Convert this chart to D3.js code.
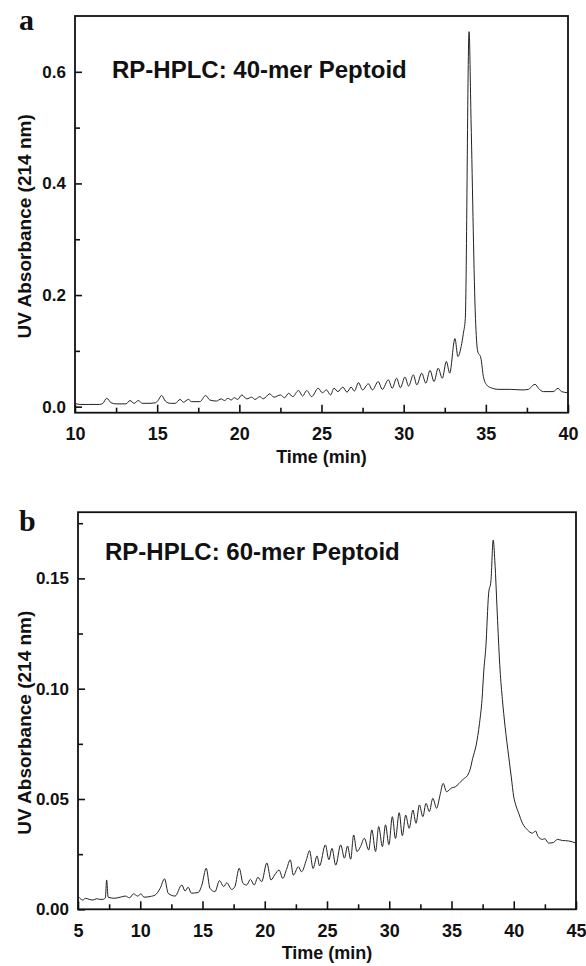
<!DOCTYPE html>
<html>
<head>
<meta charset="utf-8">
<script src="https://cdn.jsdelivr.net/npm/d3@7"></script>
<style>
  body { margin: 0; background: #fff; }
  svg text { font-family: "Liberation Sans", Arial, Helvetica, sans-serif; font-weight: bold; fill: #111; }
  .letter { font-family: "Liberation Serif", "Times New Roman", serif !important; }
</style>
</head>
<body>
<svg id="chart" width="586" height="966"></svg>
<script>
// panel a: 40-mer peptoid trace
const timeA = [10.0, 10.3, 10.8, 11.5, 11.7, 11.93, 12.2, 12.5, 13.1, 13.35, 13.6, 13.85, 14.1, 14.5, 14.9, 15.05, 15.27, 15.5, 15.8, 16.1,
  16.4, 16.6, 16.9, 17.1, 17.6, 17.95, 18.2, 18.6, 18.9, 19.1, 19.3, 19.5, 19.7, 19.9, 20.15, 20.45, 20.75, 20.95, 21.25, 21.45,
  21.85, 22.1, 22.5, 22.75, 23.0, 23.25, 23.6, 23.85, 24.1, 24.4, 24.8, 25.05, 25.3, 25.55, 25.76, 26.0, 26.3, 26.55, 26.8, 27.0,
  27.25, 27.5, 27.85, 28.1, 28.45, 28.7, 29.07, 29.3, 29.57, 29.8, 30.08, 30.3, 30.59, 30.8, 31.1, 31.35, 31.6, 31.85, 32.1, 32.35,
  32.6, 32.8, 33.12, 33.3, 33.5, 33.63, 33.75, 33.98, 34.1, 34.37, 34.5, 34.7, 34.85, 35.05, 35.3, 35.8, 36.5, 37.2, 37.6, 37.85,
  38.0, 38.2, 38.5, 39.1, 39.4, 39.6, 40.0];
const absA = [0.006, 0.004, 0.004, 0.004, 0.006, 0.015, 0.007, 0.005, 0.005, 0.011, 0.006, 0.011, 0.006, 0.006, 0.007, 0.011, 0.020, 0.010, 0.006, 0.006,
  0.013, 0.008, 0.013, 0.009, 0.009, 0.020, 0.012, 0.010, 0.014, 0.011, 0.015, 0.012, 0.016, 0.013, 0.021, 0.014, 0.017, 0.013, 0.018, 0.014,
  0.023, 0.017, 0.021, 0.016, 0.024, 0.018, 0.029, 0.019, 0.029, 0.018, 0.033, 0.025, 0.030, 0.021, 0.033, 0.027, 0.035, 0.026, 0.035, 0.028,
  0.043, 0.030, 0.041, 0.030, 0.045, 0.031, 0.048, 0.033, 0.051, 0.034, 0.053, 0.037, 0.057, 0.039, 0.060, 0.042, 0.065, 0.045, 0.069, 0.051,
  0.081, 0.060, 0.122, 0.090, 0.108, 0.131, 0.158, 0.672, 0.514, 0.158, 0.100, 0.087, 0.054, 0.039, 0.034, 0.031, 0.031, 0.030, 0.031, 0.038,
  0.040, 0.033, 0.027, 0.027, 0.033, 0.027, 0.025];

// panel b: 60-mer peptoid trace
const timeB = [5.0, 5.15, 5.4, 5.6, 5.9, 6.2, 6.5, 6.75, 7.0, 7.2, 7.3, 7.42, 7.9, 8.4, 8.8, 9.15, 9.45, 9.8, 10.05, 10.3,
  10.8, 11.2, 11.6, 11.95, 12.25, 12.8, 13.34, 13.6, 13.85, 14.1, 14.65, 14.95, 15.3, 15.6, 16.0, 16.37, 16.7, 16.95, 17.35, 17.6,
  17.95, 18.25, 18.55, 18.85, 19.15, 19.45, 19.75, 20.17, 20.5, 20.8, 21.15, 21.45, 21.75, 22.05, 22.3, 22.7, 22.95, 23.35, 23.6, 23.88,
  24.2, 24.4, 24.87, 25.15, 25.4, 25.7, 26.1, 26.4, 26.65, 26.9, 27.14, 27.4, 27.7, 28.0, 28.35, 28.6, 28.9, 29.15, 29.45, 29.7,
  29.97, 30.25, 30.5, 30.8, 31.05, 31.32, 31.6, 31.9, 32.15, 32.42, 32.7, 32.95, 33.22, 33.5, 33.8, 34.08, 34.33, 34.6, 35.0, 35.3,
  35.6, 35.95, 36.3, 36.5, 36.7, 36.98, 37.25, 37.45, 37.6, 37.76, 37.98, 38.17, 38.35, 38.48, 38.7, 38.9, 39.09, 39.3, 39.6, 39.8,
  40.0, 40.15, 40.4, 40.7, 41.1, 41.5, 41.75, 41.95, 42.3, 42.5, 42.8, 43.2, 43.5, 43.9, 44.4, 45.0];
const absB = [0.0060, 0.0050, 0.0042, 0.0050, 0.0045, 0.0042, 0.0048, 0.0045, 0.0045, 0.0052, 0.0133, 0.0055, 0.0050, 0.0055, 0.0060, 0.0052, 0.0070, 0.0060, 0.0070, 0.0055,
  0.0058, 0.0065, 0.0095, 0.0138, 0.0072, 0.0060, 0.0110, 0.0083, 0.0100, 0.0073, 0.0076, 0.0110, 0.0186, 0.0095, 0.0080, 0.0130, 0.0103, 0.0120, 0.0090, 0.0103,
  0.0186, 0.0118, 0.0110, 0.0136, 0.0110, 0.0145, 0.0125, 0.0210, 0.0133, 0.0156, 0.0178, 0.0140, 0.0181, 0.0224, 0.0155, 0.0193, 0.0170, 0.0225, 0.0266, 0.0185,
  0.0242, 0.0197, 0.0292, 0.0225, 0.0276, 0.0200, 0.0292, 0.0232, 0.0287, 0.0227, 0.0337, 0.0262, 0.0285, 0.0322, 0.0269, 0.0360, 0.0262, 0.0375, 0.0284, 0.0383,
  0.0293, 0.0420, 0.0321, 0.0438, 0.0334, 0.0427, 0.0367, 0.0450, 0.0390, 0.0473, 0.0420, 0.0480, 0.0443, 0.0503, 0.0458, 0.0518, 0.0571, 0.0533, 0.0550, 0.0555,
  0.0570, 0.0590, 0.0608, 0.0635, 0.0684, 0.0744, 0.0843, 0.0950, 0.1085, 0.1190, 0.1430, 0.1490, 0.1674, 0.1580, 0.1310, 0.1085, 0.0950, 0.0830, 0.0690, 0.0600,
  0.0510, 0.0475, 0.0435, 0.0390, 0.0360, 0.0345, 0.0355, 0.0330, 0.0317, 0.0320, 0.0300, 0.0303, 0.0317, 0.0312, 0.0310, 0.0300];

const xTicksA = [10, 15, 20, 25, 30, 35, 40];
const xMinorA = [12.5, 17.5, 22.5, 27.5, 32.5, 37.5];
const yTicksA = [0.0, 0.2, 0.4, 0.6];
const yMinorA = [0.1, 0.3, 0.5];
const xTicksB = [5, 10, 15, 20, 25, 30, 35, 40, 45];
const xMinorB = [7.5, 12.5, 17.5, 22.5, 27.5, 32.5, 37.5, 42.5];
const yTicksB = [0.0, 0.05, 0.1, 0.15];
const yMinorB = [0.025, 0.075, 0.125, 0.175];

const panels = [
  {
    letter: "a", title: "RP-HPLC: 40-mer Peptoid", t: timeA, v: absA,
    xDomain: [10, 40], yDomain: [-0.0108, 0.7],
    left: 75, right: 568, top: 16, bottom: 412.7,
    xTicks: xTicksA, xMinor: xMinorA, yTicks: yTicksA, yMinor: yMinorA, yFmt: d3.format(".1f"),
    letterY: 30, titleX: 112, titleY: 78,
  },
  {
    letter: "b", title: "RP-HPLC: 60-mer Peptoid", t: timeB, v: absB,
    xDomain: [5, 45], yDomain: [0, 0.18],
    left: 78, right: 576, top: 512.2, bottom: 909.3,
    xTicks: xTicksB, xMinor: xMinorB, yTicks: yTicksB, yMinor: yMinorB, yFmt: d3.format(".2f"),
    letterY: 531, titleX: 105, titleY: 560,
  },
];

const svg = d3.select("#chart");

panels.forEach((p) => {
  const x = d3.scaleLinear().domain(p.xDomain).range([p.left, p.right]);
  const y = d3.scaleLinear().domain(p.yDomain).range([p.bottom, p.top]);
  const g = svg.append("g");

  // inward ticks on bottom and left
  const xAxis = g.append("g").attr("transform", `translate(0, ${p.bottom})`);
  xAxis.call(d3.axisBottom(x).tickValues(p.xTicks).tickSize(-8).tickPadding(15).tickFormat(d3.format("d")));
  xAxis.selectAll("text").style("font-size", "18px").attr("dy", "0.71em");
  g.append("g")
    .attr("transform", `translate(0, ${p.bottom})`)
    .call(d3.axisBottom(x).tickValues(p.xMinor).tickSize(-5).tickFormat(""));

  const yAxis = g.append("g").attr("transform", `translate(${p.left}, 0)`);
  yAxis.call(d3.axisLeft(y).tickValues(p.yTicks).tickSize(-7).tickPadding(9).tickFormat(p.yFmt));
  yAxis.selectAll("text").style("font-size", "17px");
  g.append("g")
    .attr("transform", `translate(${p.left}, 0)`)
    .call(d3.axisLeft(y).tickValues(p.yMinor).tickSize(-5).tickFormat(""));

  g.selectAll(".domain").remove();
  g.selectAll(".tick line").attr("stroke", "#111").attr("stroke-width", 1.6);

  g.append("rect")
    .attr("x", p.left)
    .attr("y", p.top)
    .attr("width", p.right - p.left)
    .attr("height", p.bottom - p.top)
    .attr("fill", "none")
    .attr("stroke", "#111")
    .attr("stroke-width", 1.8);

  const line = d3.line().x((d, i) => x(p.t[i])).y((d) => y(d)).curve(d3.curveMonotoneX);
  g.append("path")
    .datum(p.v)
    .attr("d", line)
    .attr("fill", "none")
    .attr("stroke", "#222")
    .attr("stroke-width", 1)
    .attr("stroke-linejoin", "round");

  g.append("text")
    .attr("x", (p.left + p.right) / 2)
    .attr("y", p.bottom + 50)
    .attr("text-anchor", "middle")
    .style("font-size", "18px")
    .text("Time (min)");

  g.append("text")
    .attr("transform", `translate(31, ${(p.top + p.bottom) / 2 + 12}) rotate(-90)`)
    .attr("text-anchor", "middle")
    .style("font-size", "19px")
    .text("UV Absorbance (214 nm)");

  g.append("text")
    .attr("x", p.titleX)
    .attr("y", p.titleY)
    .style("font-size", "24px")
    .text(p.title);

  g.append("text")
    .attr("class", "letter")
    .attr("x", 19)
    .attr("y", p.letterY)
    .style("font-size", "30px")
    .text(p.letter);
});
</script>
</body>
</html>
